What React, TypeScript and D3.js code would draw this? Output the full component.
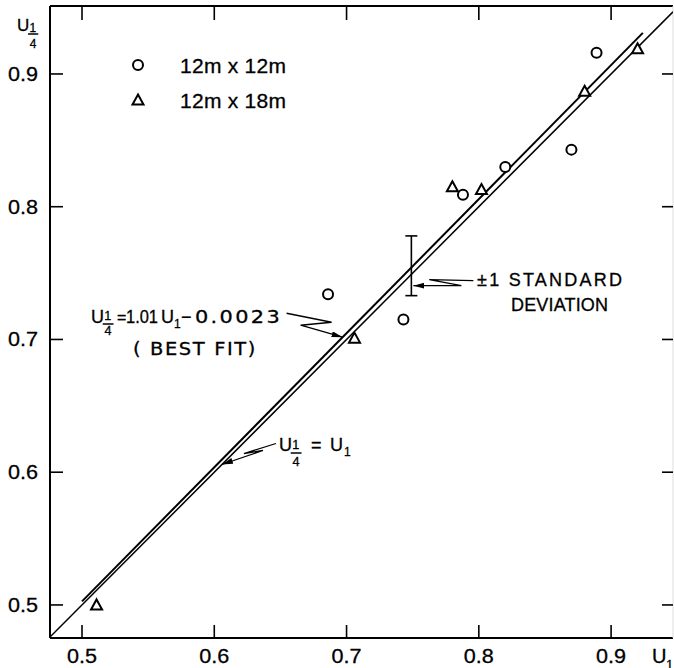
import React from "react";
import { scaleLinear, line } from "d3";

const W = 674;
const H = 668;

// 12m x 12m plots (circles)
const sq12U1 = [0.686, 0.743, 0.788, 0.82, 0.87, 0.889];
const sq12U14 = [0.734, 0.715, 0.809, 0.83, 0.843, 0.916];

// 12m x 18m plots (triangles)
const rect18U1 = [0.511, 0.706, 0.78, 0.802, 0.88, 0.92];
const rect18U14 = [0.5, 0.701, 0.815, 0.813, 0.887, 0.919];

const xTicks = [0.5, 0.6, 0.7, 0.8, 0.9];
const yTicks = [0.5, 0.6, 0.7, 0.8, 0.9];

// best fit  U1/4 = 1.01 U1 - 0.0023
const fitSlope = 1.01;
const fitIntercept = -0.0023;
const fitFrom = 0.5;
const fitTo = 0.924;

// +-1 standard deviation bar
const sdAt = 0.749;
const sdLow = 0.733;
const sdHigh = 0.778;

const legendItems = ["12m x 12m", "12m x 18m"];

const FONT = "'Liberation Sans', Arial, sans-serif";
const WIDE = "'DejaVu Sans', sans-serif";

// frame in pixels
const left = 50;
const right = 673;
const top = 6;
const bottom = 638;

const x = scaleLinear().domain([0.4758, 0.9468]).range([left, right]);
const y = scaleLinear().domain([0.4751, 0.9512]).range([bottom, top]);

const fit = (u: number) => fitSlope * u + fitIntercept;

const triPath = "M0,-5.5L5.5,4.5L-5.5,4.5Z";

// ink-ish text, slightly heavier than the plain font
const T = (p: any) => (
  <text fontFamily={FONT} stroke="#000" strokeWidth={0.3} {...p}>
    {p.children}
  </text>
);

// U with a 1/4 subscript, drawn as a little stacked fraction
const U14 = ({ px, py, size, d1, dBar, d4 }: any) => (
  <g>
    <T x={px} y={py} fontSize={size}>U</T>
    <T x={px + size * 0.93} y={py + d1} fontSize={size * 0.7} textAnchor="middle">1</T>
    <line x1={px + size * 0.65} x2={px + size * 1.25} y1={py + dBar} y2={py + dBar} stroke="#000" strokeWidth={1.5} />
    <T x={px + size * 0.95} y={py + d4} fontSize={size * 0.7} textAnchor="middle">4</T>
  </g>
);

const Leader = ({ tip, offs }: any) => {
  const pts = offs.map((o: number[]) => [tip[0] + o[0], tip[1] + o[1]]);
  pts.push(tip);
  return (
    <path
      d={line()(pts) as string}
      fill="none"
      stroke="#000"
      strokeWidth={1.3}
      markerEnd="url(#arrow)"
    />
  );
};

export default function App() {
  const identity = line()([
    [x(0.4758), y(0.4758)],
    [x(0.9468), y(0.9468)],
  ]) as string;
  const bestFit = line()([
    [x(fitFrom), y(fit(fitFrom))],
    [x(fitTo), y(fit(fitTo))],
  ]) as string;

  const fitTip = [x(0.697), y(fit(0.697))];
  const idTip = [x(0.6058), y(0.6058)];
  const sdTip = [x(sdAt) + 2, y(0.7405)];

  return (
    <svg
      width={W}
      height={H}
      style={{ position: "absolute", left: 0, top: 0, background: "#fff" }}
    >
      <defs>
        <clipPath id="frame">
          <rect x={left} y={top} width={right - left} height={bottom - top} />
        </clipPath>
        <marker
          id="arrow"
          markerUnits="userSpaceOnUse"
          markerWidth={11}
          markerHeight={6}
          refX={11}
          refY={3}
          orient="auto"
        >
          <path d="M0,0L11,3L0,6Z" fill="#000" />
        </marker>
      </defs>

      {/* frame */}
      <line x1={left} x2={left} y1={top} y2={bottom} stroke="#000" strokeWidth={2} />
      <line x1={left} x2={right} y1={bottom} y2={bottom} stroke="#000" strokeWidth={2} />
      <line x1={left} x2={right} y1={top} y2={top} stroke="#000" strokeWidth={2} />
      <line x1={right} x2={right} y1={top} y2={bottom} stroke="#ddd" strokeWidth={1} />

      {/* ticks */}
      {xTicks.map((t) => (
        <g key={"x" + t}>
          <line x1={x(t)} x2={x(t)} y1={bottom} y2={bottom - 13} stroke="#000" strokeWidth={1.6} />
          <line x1={x(t)} x2={x(t)} y1={top} y2={top + 14} stroke="#000" strokeWidth={1.6} />
          <T x={x(t)} y={663} fontSize={20} textAnchor="middle" textLength={30} lengthAdjust="spacingAndGlyphs">
            {t.toFixed(1)}
          </T>
        </g>
      ))}
      {yTicks.map((t) => (
        <g key={"y" + t}>
          <line x1={left} x2={left + 13} y1={y(t)} y2={y(t)} stroke="#000" strokeWidth={1.6} />
          <line x1={right - 11} x2={right} y1={y(t)} y2={y(t)} stroke="#000" strokeWidth={1.6} />
          <T x={38} y={y(t) + 7} fontSize={20} textAnchor="end" textLength={30} lengthAdjust="spacingAndGlyphs">
            {t.toFixed(1)}
          </T>
        </g>
      ))}

      {/* axis titles */}
      <U14 px={17} py={31} size={17} d1={1} dBar={3} d4={17} />
      <T x={652} y={663} fontSize={20}>U</T>
      <T x={666} y={669} fontSize={13}>1</T>

      {/* lines */}
      <g clipPath="url(#frame)">
        <path d={identity} fill="none" stroke="#000" strokeWidth={1.5} />
        <path d={bestFit} fill="none" stroke="#000" strokeWidth={2} />
      </g>

      {/* standard deviation bar */}
      <line x1={x(sdAt)} x2={x(sdAt)} y1={y(sdLow)} y2={y(sdHigh)} stroke="#000" strokeWidth={1.6} />
      <line x1={x(sdAt) - 6} x2={x(sdAt) + 6} y1={y(sdLow)} y2={y(sdLow)} stroke="#000" strokeWidth={1.6} />
      <line x1={x(sdAt) - 6} x2={x(sdAt) + 6} y1={y(sdHigh)} y2={y(sdHigh)} stroke="#000" strokeWidth={1.6} />

      {/* points */}
      {sq12U1.map((u, i) => (
        <circle key={"c" + i} cx={x(u)} cy={y(sq12U14[i])} r={5} fill="#fff" stroke="#000" strokeWidth={2} />
      ))}
      {rect18U1.map((u, i) => (
        <path
          key={"t" + i}
          d={triPath}
          transform={`translate(${x(u)},${y(rect18U14[i])})`}
          fill="#fff"
          stroke="#000"
          strokeWidth={2}
        />
      ))}

      {/* legend */}
      <circle cx={138} cy={65} r={5} fill="#fff" stroke="#000" strokeWidth={2} />
      <path d={triPath} transform="translate(138,100)" fill="#fff" stroke="#000" strokeWidth={2} />
      {legendItems.map((s, i) => (
        <T key={s} x={180} y={73 + i * 35} fontSize={21} textLength={106} lengthAdjust="spacing">
          {s}
        </T>
      ))}

      {/* best fit annotation */}
      <U14 px={91} py={323} size={18} d1={-3} dBar={1} d4={12} />
      <T x={117} y={323} fontSize={16}>=</T>
      <T x={126} y={323} fontSize={18} textLength={32} lengthAdjust="spacingAndGlyphs">1.01</T>
      <T x={161} y={323} fontSize={18}>U</T>
      <T x={174} y={328} fontSize={12}>1</T>
      <T x={181} y={323} fontSize={18}>−</T>
      <T x={195} y={323} fontFamily={WIDE} fontSize={18} letterSpacing={2} textLength={87} lengthAdjust="spacingAndGlyphs">0.0023</T>
      <T x={133} y={355} fontFamily={WIDE} fontSize={18} letterSpacing={1.5} textLength={124} lengthAdjust="spacingAndGlyphs">( BEST  FIT)</T>
      <Leader tip={fitTip} offs={[[-56, -24], [-11, -15], [-42, -12]]} />

      {/* identity annotation */}
      <U14 px={279} py={451} size={18} d1={-2} dBar={2} d4={15} />
      <T x={311} y={451} fontSize={18}>=</T>
      <T x={330} y={451} fontSize={18}>U</T>
      <T x={344} y={456} fontSize={12}>1</T>
      <Leader tip={idTip} offs={[[54, -21], [22, -11], [41, -14]]} />

      {/* standard deviation annotation */}
      <T x={477} y={286} fontSize={18} textLength={145} lengthAdjust="spacing">±1 STANDARD</T>
      <T x={511} y={311} fontSize={18} textLength={97} lengthAdjust="spacing">DEVIATION</T>
      <Leader tip={sdTip} offs={[[60, -5], [16, -6], [48, 0]]} />
    </svg>
  );
}
